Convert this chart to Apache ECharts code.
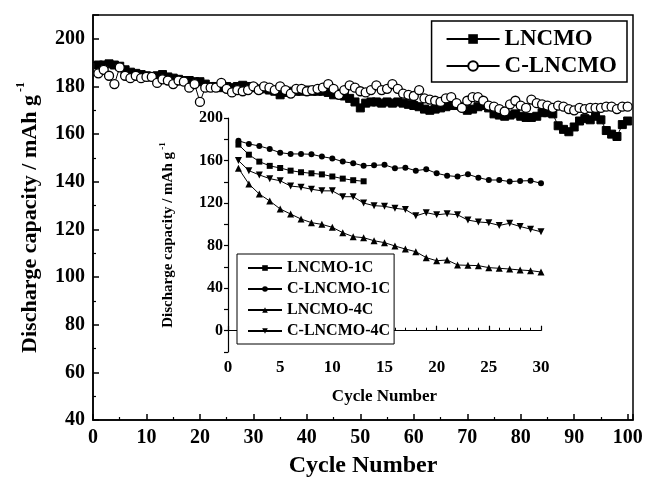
<!DOCTYPE html>
<html>
<head>
<meta charset="utf-8">
<script src="https://cdn.jsdelivr.net/npm/echarts@6/dist/echarts.min.js"></script>
<style>
html, body { margin: 0; padding: 0; background: #fff; }
#main { width: 647px; height: 488px; }
</style>
</head>
<body>
<div id="main"></div>
<script>
// main plot: discharge capacity for cycles 1..100
var capLNCMO = [
  189, 189, 189.5, 189, 188.5, 187, 186, 185.5, 185, 184.5,
  184, 184.5, 185, 184, 183.5, 183, 182.5, 182.5, 182, 182,
  181, 180, 180, 179.5, 180, 179.5, 180, 180.5, 180, 179.5,
  179, 179, 178.5, 178, 176.5, 177.5, 178, 178, 178, 178.5,
  178, 178, 178, 177.5, 176.5, 177, 176, 175, 173.5, 171,
  173, 173.5, 173.5, 173, 173.5, 173, 173.5, 173, 172.5, 172,
  171.5, 170.5, 170, 170.5, 171, 171.5, 172, 172, 171.5, 170,
  170.5, 171.5, 172, 171, 168.5, 168, 167.5, 168, 168.5, 167.5,
  167, 167, 167.5, 169, 169, 168.5, 163.5, 162, 161, 163,
  165.5, 166.5, 166, 167.5, 166, 161.5, 160, 159, 164, 165.5
];
var capCLNCMO = [
  185.5, 187, 184.5, 181, 188, 184.5, 183.5, 184.5, 183.5, 184,
  184, 181.5, 183, 182.5, 181, 182.5, 182, 179.5, 181, 173.5,
  179.5, 179.5, 179.5, 181.5, 179, 177.5, 178.5, 178, 178.5, 180,
  178.5, 180, 179.5, 178.5, 180, 178.5, 177, 179, 179, 178,
  178.5, 179, 179.5, 181, 179, 176.5, 178.5, 180.5, 179.5, 178,
  177.5, 178.5, 180.5, 178.5, 179, 181, 179, 177, 176.5, 176,
  178.5, 175, 174.5, 174, 173.5, 175, 175.5, 173, 171, 174,
  175.5, 175.5, 174, 172, 171.5, 170.5, 169.5, 172.5, 174, 172,
  171, 174.5, 173, 172.5, 172, 171, 172, 171.5, 170.5, 170,
  171, 170.5, 171, 171, 171, 171.5, 171.5, 170.5, 171.5, 171.5
];

// inset: first 30 cycles at 1C and 4C
var inLNCMO1C = [175, 165.5, 159, 155, 153, 150.5, 149, 148, 147, 145, 143, 141.5, 140.5];
var inCLNCMO1C = [
  178.6, 175.6, 173.7, 170.9, 167.4, 166.2, 166.2, 165.9, 163.7, 162,
  159, 157.5, 155, 155.5, 156, 152.7, 153.3, 150.5, 151.8, 148,
  145.8, 144.9, 147.1, 143.9, 141.7, 141.7, 140.2, 140.8, 141.1, 138.6
];
var inLNCMO4C = [
  152.7, 138, 128.5, 122, 114.5, 109.7, 105, 101.6, 100, 97.2,
  92.2, 88.4, 87.5, 84.6, 82.8, 79.7, 76.8, 74.3, 68.7, 65.8,
  66.5, 61.8, 61.5, 61.2, 59.3, 58.7, 58, 57.1, 56.5, 55.2
];
var inCLNCMO4C = [
  160, 150.5, 146.5, 143, 141, 136, 135, 133, 131.5, 131.5,
  126, 126, 120, 117.6, 117, 115.1, 114, 108, 111, 109,
  110, 109, 104, 102.3, 101.5, 99, 101, 98, 95.5, 93
];

function pairs(arr) {
  return arr.map(function (v, i) { return [i + 1, v]; });
}

var serif = 'Liberation Serif';
var txt = { fontFamily: serif, fontWeight: 'bold', color: '#000' };

var myChart = echarts.init(document.getElementById('main'));

var option = {
  animation: false,
  backgroundColor: '#fff',
  grid: [
    { left: 93, top: 15, right: 14, bottom: 68, show: true, borderColor: '#000', borderWidth: 1.5 },
    { left: 228, top: 118, right: 106, bottom: 136 }
  ],
  legend: [
    {
      data: ['LNCMO', 'C-LNCMO'],
      orient: 'vertical',
      right: 20, top: 21,
      padding: [6, 10, 4, 14],
      itemGap: 3,
      itemWidth: 53, itemHeight: 12,
      borderColor: '#000', borderWidth: 1.5,
      backgroundColor: '#fff',
      textStyle: Object.assign({ fontSize: 23, lineHeight: 24 }, txt)
    },
    {
      data: ['LNCMO-1C', 'C-LNCMO-1C', 'LNCMO-4C', 'C-LNCMO-4C'],
      orient: 'vertical',
      left: 237, top: 254,
      padding: [6, 4, 5, 10],
      itemGap: 5,
      itemWidth: 34, itemHeight: 7,
      borderColor: '#000', borderWidth: 1,
      backgroundColor: '#fff',
      textStyle: Object.assign({ fontSize: 16, lineHeight: 16 }, txt)
    }
  ],
  xAxis: [
    {
      gridIndex: 0, type: 'value', min: 0, max: 101, interval: 10,
      name: 'Cycle Number', nameLocation: 'middle', nameGap: 34,
      nameTextStyle: Object.assign({ fontSize: 24 }, txt),
      axisLine: { lineStyle: { color: '#000', width: 1.5 } },
      axisTick: { inside: true, length: 6, lineStyle: { color: '#000', width: 1.5 } },
      minorTick: { show: true, splitNumber: 2, length: 3, lineStyle: { color: '#000', width: 1.2 } },
      axisLabel: Object.assign({ fontSize: 20, margin: 8, formatter: function (v) { return v % 10 === 0 ? v : ''; } }, txt),
      splitLine: { show: false }
    },
    {
      gridIndex: 1, type: 'value', min: 0, max: 30, interval: 5,
      name: 'Cycle Number', nameLocation: 'middle', nameGap: 36,
      nameTextStyle: Object.assign({ fontSize: 17 }, txt),
      axisLine: { lineStyle: { color: '#000', width: 1.2 } },
      axisTick: { inside: true, length: 5, lineStyle: { color: '#000', width: 1.2 } },
      minorTick: { show: true, splitNumber: 5, length: 3, lineStyle: { color: '#000', width: 1 } },
      axisLabel: Object.assign({ fontSize: 17, margin: 7 }, txt),
      splitLine: { show: false }
    }
  ],
  yAxis: [
    {
      gridIndex: 0, type: 'value', min: 40, max: 210, interval: 20,
      name: '{a|Discharge capacity / mAh g}{s| -1}', nameLocation: 'middle', nameGap: 52,
      nameTextStyle: {
        rich: {
          a: Object.assign({ fontSize: 22, lineHeight: 26, verticalAlign: 'bottom' }, txt),
          s: Object.assign({ fontSize: 12, lineHeight: 12, verticalAlign: 'top' }, txt)
        }
      },
      axisLine: { lineStyle: { color: '#000', width: 1.5 } },
      axisTick: { inside: true, length: 6, lineStyle: { color: '#000', width: 1.5 } },
      minorTick: { show: true, splitNumber: 2, length: 3, lineStyle: { color: '#000', width: 1.2 } },
      axisLabel: Object.assign({ fontSize: 20, margin: 8, formatter: function (v) { return v % 20 === 0 ? v : ''; } }, txt),
      splitLine: { show: false }
    },
    {
      gridIndex: 1, type: 'value', min: -20, max: 200, interval: 20,
      name: '{a|Discharge capacity / mAh g}{s| -1}', nameLocation: 'middle', nameGap: 52,
      nameTextStyle: {
        rich: {
          a: Object.assign({ fontSize: 15, lineHeight: 18, verticalAlign: 'bottom' }, txt),
          s: Object.assign({ fontSize: 9, lineHeight: 9, verticalAlign: 'top' }, txt)
        }
      },
      axisLine: { lineStyle: { color: '#000', width: 1.2 } },
      axisTick: { inside: false, length: 4, lineStyle: { color: '#000', width: 1.2 } },
      axisLabel: Object.assign({ fontSize: 16, margin: 5, formatter: function (v) { return v % 40 === 0 ? v : ''; } }, txt),
      splitLine: { show: false }
    }
  ],
  series: [
    {
      name: 'LNCMO', type: 'line', xAxisIndex: 0, yAxisIndex: 0,
      data: pairs(capLNCMO),
      symbol: 'rect', symbolSize: 8,
      itemStyle: { color: '#000', borderColor: '#000' },
      lineStyle: { color: '#000', width: 1 }
    },
    {
      name: 'C-LNCMO', type: 'line', xAxisIndex: 0, yAxisIndex: 0,
      data: pairs(capCLNCMO),
      symbol: 'circle', symbolSize: 9,
      itemStyle: { color: '#fff', borderColor: '#000', borderWidth: 1.3 },
      lineStyle: { color: '#000', width: 1 }
    },
    {
      name: 'LNCMO-1C', type: 'line', xAxisIndex: 1, yAxisIndex: 1,
      data: pairs(inLNCMO1C),
      symbol: 'rect', symbolSize: 6,
      itemStyle: { color: '#000' },
      lineStyle: { color: '#000', width: 1 }
    },
    {
      name: 'C-LNCMO-1C', type: 'line', xAxisIndex: 1, yAxisIndex: 1,
      data: pairs(inCLNCMO1C),
      symbol: 'circle', symbolSize: 6,
      itemStyle: { color: '#000' },
      lineStyle: { color: '#000', width: 1 }
    },
    {
      name: 'LNCMO-4C', type: 'line', xAxisIndex: 1, yAxisIndex: 1,
      data: pairs(inLNCMO4C),
      symbol: 'triangle', symbolSize: 7,
      itemStyle: { color: '#000' },
      lineStyle: { color: '#000', width: 1 }
    },
    {
      name: 'C-LNCMO-4C', type: 'line', xAxisIndex: 1, yAxisIndex: 1,
      data: pairs(inCLNCMO4C),
      symbol: 'triangle', symbolRotate: 180, symbolSize: 7,
      itemStyle: { color: '#000' },
      lineStyle: { color: '#000', width: 1 }
    }
  ]
};

myChart.setOption(option);
</script>
</body>
</html>
